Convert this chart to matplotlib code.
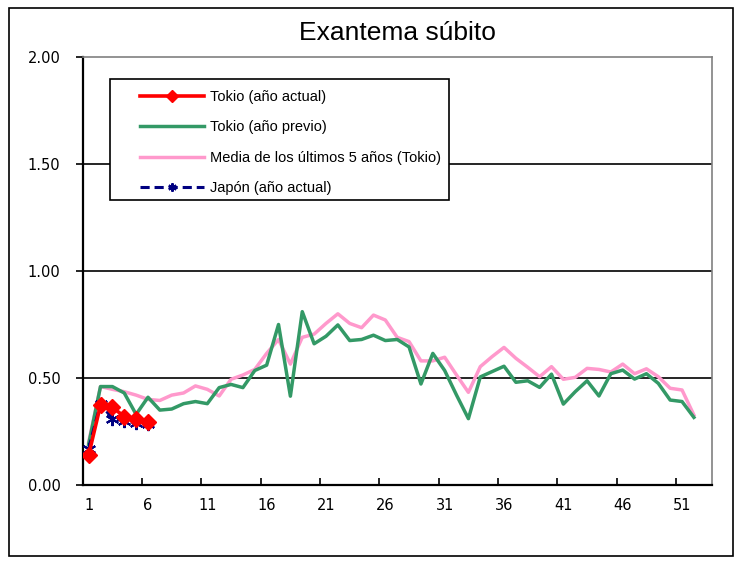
import numpy as np
import matplotlib.pyplot as plt
from matplotlib.patches import Rectangle
from matplotlib.ticker import FormatStrFormatter

# Weekly values (weeks 1-52)
weeks = list(range(1, 53))

tokyo_prev = [0.19, 0.46, 0.46, 0.43, 0.33, 0.41, 0.35, 0.355, 0.38, 0.39,
              0.38, 0.455, 0.47, 0.455, 0.535, 0.56, 0.75, 0.415, 0.81, 0.66,
              0.695, 0.748, 0.675, 0.68, 0.70, 0.675, 0.68, 0.645, 0.472, 0.615,
              0.535, 0.42, 0.31, 0.505, 0.53, 0.555, 0.48, 0.487, 0.456, 0.518,
              0.378, 0.436, 0.487, 0.416, 0.52, 0.537, 0.495, 0.52, 0.475, 0.397,
              0.39, 0.316]

tokyo_avg5 = [0.20, 0.46, 0.447, 0.436, 0.42, 0.40, 0.395, 0.42, 0.43, 0.463,
              0.447, 0.416, 0.494, 0.514, 0.54, 0.615, 0.68, 0.565, 0.69, 0.705,
              0.755, 0.80, 0.755, 0.735, 0.794, 0.771, 0.69, 0.67, 0.58, 0.58,
              0.597, 0.514, 0.433, 0.553, 0.60, 0.643, 0.592, 0.55, 0.506, 0.553,
              0.494, 0.503, 0.545, 0.54, 0.528, 0.565, 0.52, 0.543, 0.506, 0.452,
              0.444, 0.327]

cur_weeks = [1, 2, 3, 4, 5, 6]
tokyo_cur = [0.14, 0.374, 0.363, 0.32, 0.307, 0.296]
japan_cur = [0.17, 0.38, 0.31, 0.30, 0.29, 0.285]

labels = ["Tokio (año actual)", "Tokio (año previo)",
          "Media de los últimos 5 años (Tokio)", "Japón (año actual)"]

W, H = 742, 568
fig = plt.figure(figsize=(W / 100, H / 100), dpi=100)
ax = fig.add_axes([82.7 / W, 1 - 485 / H, 629 / W, 428 / H])

# outer frame
fig.patches.append(Rectangle((9 / W, 1 - 556 / H), 724 / W, 548 / H,
                             transform=fig.transFigure, fill=False,
                             edgecolor="black", linewidth=1.2))

l_avg, = ax.plot(weeks, tokyo_avg5, color="#FF99CC", lw=2.5, zorder=2)
l_prev, = ax.plot(weeks, tokyo_prev, color="#339966", lw=2.5, zorder=3)
l_jp, = ax.plot(cur_weeks, japan_cur, color="#000080", lw=2.2,
                linestyle=(0, (3, 1.6)), marker=(6, 2, 0), markersize=9.5,
                markeredgewidth=1.5, zorder=4)
l_cur, = ax.plot(cur_weeks, tokyo_cur, color="#FF0000", lw=2.6,
                 marker="D", markersize=8, zorder=5)

ax.set_xlim(0.5, 53.5)
ax.set_ylim(0, 2.0)
ax.set_yticks(np.arange(0, 2.01, 0.5))
ax.yaxis.set_major_formatter(FormatStrFormatter("%.2f"))
for y in [0.5, 1.0, 1.5]:
    ax.axhline(y, color="black", lw=1.2, zorder=1)

ax.set_xticks(range(1, 53, 5))
ax.set_xticks(np.arange(5.5, 51, 5), minor=True)
ax.tick_params(axis="x", which="major", length=0, pad=9)
ax.tick_params(axis="x", which="minor", direction="in", length=5, width=1.2)
ax.tick_params(axis="y", length=5, width=1.2, pad=11)
for lab in ax.get_xticklabels() + ax.get_yticklabels():
    lab.set_fontfamily("DejaVu Sans")
    lab.set_fontsize(10.5)

ax.spines["left"].set_linewidth(1.6)
ax.spines["bottom"].set_linewidth(1.6)
ax.spines["top"].set_color("#808080")
ax.spines["right"].set_color("#808080")
ax.spines["top"].set_linewidth(1.2)
ax.spines["right"].set_linewidth(1.2)

fig.text(397 / W, 1 - 33 / H, "Exantema súbito", ha="center", va="center",
         fontsize=19, family="Liberation Sans")

# legend box
fig.patches.append(Rectangle((110 / W, 1 - 200 / H), 339 / W, 121 / H,
                             transform=fig.transFigure, fill=True,
                             facecolor="white", edgecolor="black",
                             linewidth=1.2, zorder=5))
leg = fig.legend([l_cur, l_prev, l_avg, l_jp], labels, loc="upper left",
                 bbox_to_anchor=(140 / W, 1 - 90 / H), frameon=False,
                 borderpad=0, borderaxespad=0, handlelength=4.4,
                 handletextpad=0.4, labelspacing=1.12, numpoints=1,
                 prop={"family": "Liberation Sans", "size": 10.5})
leg.set_zorder(6)
for h in leg.legend_handles:
    h.set_markersize(6)

fig.savefig("out.png", dpi=100)
